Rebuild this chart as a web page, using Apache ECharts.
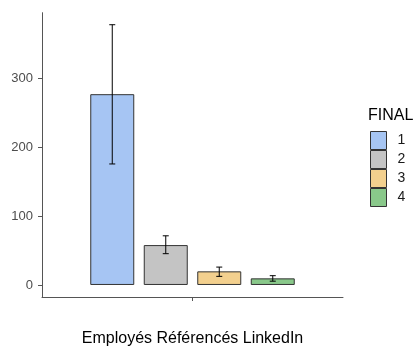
<!DOCTYPE html>
<html>
<head>
<meta charset="utf-8">
<script src="https://cdn.jsdelivr.net/npm/echarts@6/dist/echarts.min.js"></script>
<style>
  html, body { margin: 0; padding: 0; background: #fff; }
  #chart { width: 415px; height: 349px; }
</style>
</head>
<body>
<div id="chart"></div>
<script>
// Mean number of referenced LinkedIn employees per FINAL group, with error bars
const groups = ['1', '2', '3', '4'];
const means = [277.5, 58, 19.8, 9.6];
const errLow = [176, 45.5, 12.5, 5.5];
const errHigh = [378.5, 71.5, 26, 13.5];
const yTicks = [0, 100, 200, 300];
const xTitle = 'Employés Référencés LinkedIn';
const legendTitle = 'FINAL';

const colors = ['#a6c5f3', '#c4c4c4', '#f3d08e', '#89c88a'];
const BAR_W = 44;
const BAR_GAP = 9.5;
const FONT = '"Liberation Sans", Arial, Helvetica, sans-serif';

const chart = echarts.init(document.getElementById('chart'), null, { renderer: 'canvas' });

const barSeries = groups.map((g, i) => ({
  name: g,
  type: 'bar',
  data: [means[i]],
  barWidth: BAR_W,
  barGap: (BAR_GAP / BAR_W * 100) + '%',
  itemStyle: { color: colors[i], borderColor: '#333', borderWidth: 1 },
  emphasis: { disabled: true },
  silent: true
}));

// One error bar per group, shifted to sit on its own bar
const errSeries = {
  type: 'custom',
  silent: true,
  z: 5,
  data: groups.map((g, i) => [0, errLow[i], errHigh[i], i]),
  renderItem: function (params, api) {
    const idx = api.value(3);
    const lo = api.coord([api.value(0), api.value(1)]);
    const hi = api.coord([api.value(0), api.value(2)]);
    const offset = (idx - (groups.length - 1) / 2) * (BAR_W + BAR_GAP);
    const x = lo[0] + offset;
    const cap = 3;
    const style = { stroke: '#000', lineWidth: 1 };
    return {
      type: 'group',
      children: [
        { type: 'line', shape: { x1: x, y1: lo[1], x2: x, y2: hi[1] }, style },
        { type: 'line', shape: { x1: x - cap, y1: lo[1], x2: x + cap, y2: lo[1] }, style },
        { type: 'line', shape: { x1: x - cap, y1: hi[1], x2: x + cap, y2: hi[1] }, style }
      ]
    };
  }
};

chart.setOption({
  animation: false,
  backgroundColor: '#fff',
  textStyle: { fontFamily: FONT },
  title: {
    text: legendTitle,
    left: 368,
    top: 108,
    padding: 0,
    textStyle: { fontFamily: FONT, fontSize: 16, fontWeight: 'normal', color: '#000' }
  },
  legend: {
    orient: 'vertical',
    left: 370,
    top: 131,
    padding: 0,
    itemWidth: 16,
    itemHeight: 18,
    itemGap: 0,
    icon: 'rect',
    selectedMode: false,
    data: groups,
    itemStyle: { borderColor: '#333', borderWidth: 1 },
    textStyle: { fontFamily: FONT, fontSize: 14, lineHeight: 16, color: '#1a1a1a', padding: [0, 0, 0, 6] }
  },
  grid: { left: 42, right: 72, top: 12.7, bottom: 52, containLabel: false, outerBoundsMode: 'none' },
  xAxis: {
    type: 'category',
    data: [''],
    name: xTitle,
    nameLocation: 'middle',
    nameGap: 34,
    nameTextStyle: { fontFamily: FONT, fontSize: 16, color: '#000' },
    axisLine: { onZero: false, lineStyle: { color: '#555', width: 1 } },
    axisTick: { show: true, alignWithLabel: true, length: 4, lineStyle: { color: '#555' } },
    axisLabel: { show: false }
  },
  yAxis: {
    type: 'value',
    min: -17.5,
    max: 396,
    splitLine: { show: false },
    axisLine: { show: true, lineStyle: { color: '#555', width: 1 } },
    axisTick: { show: true, length: 4, customValues: yTicks, lineStyle: { color: '#555' } },
    axisLabel: { customValues: yTicks, margin: 9, fontFamily: FONT, fontSize: 13, color: '#4d4d4d' }
  },
  series: barSeries.concat([errSeries])
});
</script>
</body>
</html>
